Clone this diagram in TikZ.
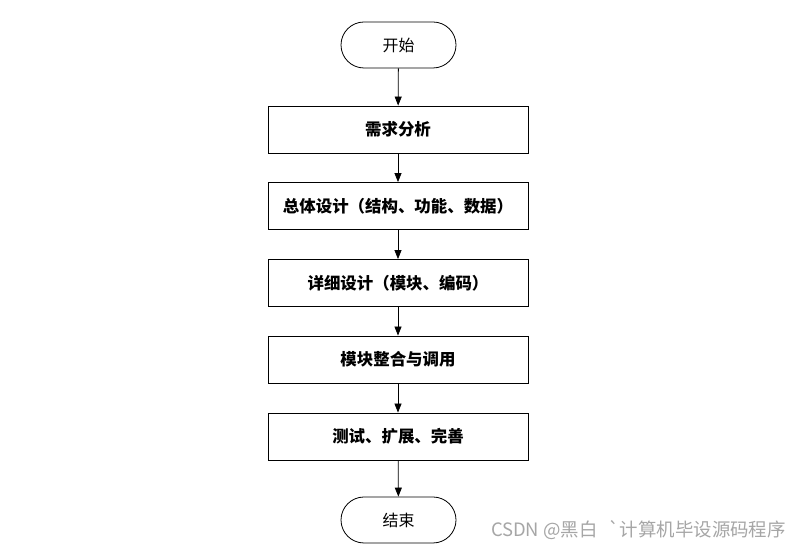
\documentclass[tikz,border=0pt]{standalone}
\usepackage{fontspec}
\newfontfamily\cjk{Noto Sans CJK SC}
\usetikzlibrary{arrows.meta}
\begin{document}
\begin{tikzpicture}[x=1bp,y=1bp,
  term/.style={draw,line width=0.8bp,rounded corners=23bp,minimum width=115bp,minimum height=46bp,font=\cjk\fontsize{16}{19}\selectfont},
  procbox/.style={draw,line width=0.8bp,minimum width=260bp,minimum height=47bp,font=\cjk\bfseries\fontsize{16.5}{19}\selectfont},
  arr/.style={-{Triangle[length=9bp,width=7bp]},line width=0.8bp}]
\useasboundingbox (0,0) rectangle (801,550);
\fill[white] (0,0) rectangle (801,550);
\node[term] (s) at (398.5,505) {开始};
\node[procbox] (b1) at (398,420.5) {需求分析};
\node[procbox] (b2) at (398,344) {总体设计（结构、功能、数据）};
\node[procbox] (b3) at (398,267) {详细设计（模块、编码）};
\node[procbox] (b4) at (398,190.5) {模块整合与调用};
\node[procbox] (b5) at (398,113.5) {测试、扩展、完善};
\node[term] (e) at (398.5,30) {结束};
\draw[arr] (s) -- (b1);
\draw[arr] (b1) -- (b2);
\draw[arr] (b2) -- (b3);
\draw[arr] (b3) -- (b4);
\draw[arr] (b4) -- (b5);
\draw[arr] (b5) -- (e);
\node[anchor=east,text=black!35,font=\cjk\fontsize{18.5}{20}\selectfont,inner sep=0pt] (wm) at (786,20) {CSDN @黑白\hspace{0.6em}`计算机毕设源码程序};
\end{tikzpicture}
\end{document}
